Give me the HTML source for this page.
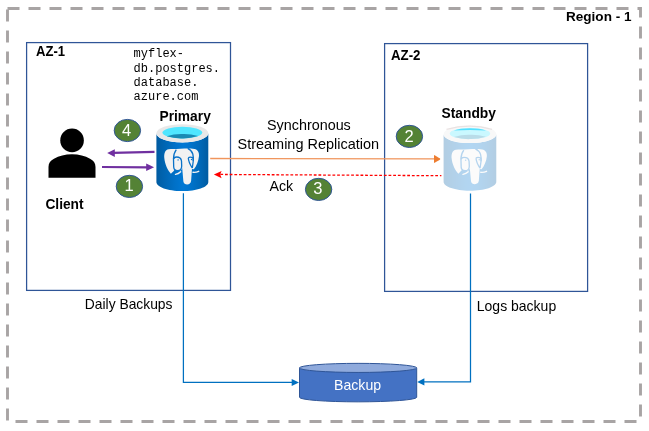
<!DOCTYPE html>
<html><head><meta charset="utf-8">
<style>
html,body{margin:0;padding:0;background:#fff;width:649px;height:431px;overflow:hidden}
svg{display:block;will-change:transform}
text{font-family:"Liberation Sans",sans-serif}
.b{font-weight:bold}
.m{font-family:"Liberation Mono",monospace}
</style></head><body>
<svg width="649" height="431" viewBox="0 0 649 431">
<defs>
<linearGradient id="dbg" x1="2.59" y1="10.16" x2="15.41" y2="10.16" gradientUnits="userSpaceOnUse">
<stop offset="0" stop-color="#005ba1"/><stop offset=".07" stop-color="#0060a9"/><stop offset=".36" stop-color="#0071c8"/><stop offset=".52" stop-color="#0078d4"/><stop offset=".64" stop-color="#0074cd"/><stop offset=".82" stop-color="#006abb"/><stop offset="1" stop-color="#005ba1"/>
</linearGradient>
<g id="pg">
 <g transform="matrix(4.048,0,0,3.935,145.92,122.23)">
  <path d="M9,5.14c-3.54,0-6.41-1-6.41-2.32V15.18c0,1.27,2.82,2.3,6.32,2.32H9c3.54,0,6.41-1,6.41-2.32V2.82C15.41,4.11,12.54,5.14,9,5.14Z" fill="url(#dbg)"/>
  <ellipse cx="9" cy="2.82" rx="6.41" ry="2.32" fill="#e8e8e8"/>
  <ellipse cx="9" cy="2.635" rx="4.92" ry="1.475" fill="#50e6ff"/>
  <path d="M9,3a11.55,11.55,0,0,0-3.89.57A11.66,11.66,0,0,0,9,4.11a11.66,11.66,0,0,0,3.89-.58A11.55,11.55,0,0,0,9,3Z" fill="#198ab3"/>
 </g>
 <path fill="#f2f2f2" d="M168.6,149.2 C165,149.5 163.9,154 164.3,158 C164.8,164 167.8,170.5 170.9,173.7 C172.6,172.3 174.2,170.6 175,169 L175.5,170 C176.5,171 178.5,171.3 180.5,170.6 C181.5,170 182,169 182.2,168 L183.4,181.5 C183.6,183.5 185.3,184.4 187.2,184.4 C189.3,184.4 190.8,183.2 191.1,181 L192,168.5 C192.3,169 193,169.5 194,169 C196.5,166 198.5,161 199,156 C199.3,152 197.5,149.6 194.5,149 C192,148.5 189.5,148.5 187.7,148.5 C184,148.2 180,148.5 176.8,149.1 C174,149 171,149 168.6,149.2 Z"/>
 <g fill="none" stroke="#0a72c8" stroke-width="1.3">
  <path d="M176.3,149.6 C174.5,152 173.5,155 173.5,159"/>
  <path d="M173.5,159 C174,157.5 175,157 176.5,157 C179,157 181.2,158.5 181.5,161 L181.7,166 C181.7,169 180,170.6 177.5,170.6 C175,170.6 173.8,169 173.7,167 L173.5,159 Z"/>
  <path d="M187.7,148.4 C190,149.5 192,151.5 192.8,154 C193.3,156 193.5,158 193.3,161"/>
  <path d="M188.2,157.8 C189,157.2 191,157 192.8,157.6 C193.4,158.8 193.4,160 193.2,161.5 L192.3,168 M188.3,158 C188.5,161 190,164.5 192.2,168"/>
 </g>
 <circle cx="178.1" cy="159.9" r="0.7" fill="#0a74cc"/>
 <circle cx="191.5" cy="159.5" r="0.7" fill="#0a74cc"/>
 <g fill="none" stroke="#f2f2f2" stroke-width="1.4" stroke-linecap="round">
  <path d="M175.5,174.4 Q178.5,174 180.6,171.8"/>
  <path d="M193,172.3 Q196,172.6 198.7,171.3"/>
 </g>
</g>
</defs>

<!-- region dashed border -->
<rect x="7.5" y="8.5" width="633" height="413" fill="none" stroke="#a8a4a4" stroke-width="2.9" stroke-dasharray="12 9"/>
<text class="b" x="566" y="21" font-size="13.5" textLength="65.5" lengthAdjust="spacingAndGlyphs">Region - 1</text>

<!-- AZ boxes -->
<rect x="26.6" y="42.6" width="203.9" height="247.8" fill="none" stroke="#2f5597" stroke-width="1.25"/>
<rect x="384.6" y="43.6" width="203" height="247.8" fill="none" stroke="#2f5597" stroke-width="1.25"/>
<text class="b" x="36" y="55.8" font-size="14.5" textLength="29.1" lengthAdjust="spacingAndGlyphs">AZ-1</text>
<text class="b" x="391" y="59.8" font-size="14.5" textLength="29.5" lengthAdjust="spacingAndGlyphs">AZ-2</text>

<!-- hostname -->
<g class="m" font-size="12" fill="#000">
<text class="m" x="133.6" y="56.6">myflex-</text>
<text class="m" x="133.6" y="71.6">db.postgres.</text>
<text class="m" x="133.6" y="85.8">database.</text>
<text class="m" x="133.6" y="99.6">azure.com</text>
</g>

<!-- client -->
<circle cx="72.05" cy="140.4" r="11.8" fill="#000"/>
<path d="M48.5,177.8 V167 C48.5,163 50.5,160.5 54,158.8 C59,156 65,154.3 72,154.3 C79,154.3 85,156 90,158.8 C93.5,160.5 95.5,163 95.5,167 V177.8 Z" fill="#000"/>
<text class="b" x="45.4" y="208.9" font-size="14.5" textLength="38.2" lengthAdjust="spacingAndGlyphs">Client</text>

<text class="b" x="159.5" y="120.6" font-size="14" textLength="51.3" lengthAdjust="spacingAndGlyphs">Primary</text>
<text class="b" x="441.5" y="118.4" font-size="14" textLength="54.4" lengthAdjust="spacingAndGlyphs">Standby</text>

<!-- db icons -->
<use href="#pg"/>
<use href="#pg" transform="matrix(1.01531,0,0,0.97916,284.806,3.587)" opacity="0.3"/>
<path d="M446.5,129.4 Q469.5,122.9 492,129.4" fill="none" stroke="#e2d8d8" stroke-width="1.3" opacity="0.7"/>
<path d="M453.9,130.5 A20.2,5.68 0 0 1 486,130.5 Q470,129.3 453.9,130.5 Z" fill="#3fdcff" opacity="0.85"/>

<!-- backup lines -->
<path d="M183.4,193.2 V382.3 H294" fill="none" stroke="#0070c0" stroke-width="1.25"/>
<path d="M299,382.4 L291.7,379 L291.7,385.9 Z" fill="#0070c0"/>
<path d="M470.5,193.6 V381.9 H423" fill="none" stroke="#0070c0" stroke-width="1.25"/>
<path d="M417.2,381.9 L424.4,378.3 L424.4,385.5 Z" fill="#0070c0"/>

<!-- backup cylinder -->
<path d="M299.5,367.9 V397.3 A58.6,4.55 0 0 0 416.7,397.3 V367.9 Z" fill="#4472c4" stroke="#2f5597" stroke-width="1"/>
<ellipse cx="358.1" cy="367.9" rx="58.6" ry="4.55" fill="#8faadc" stroke="#2f5597" stroke-width="1"/>
<text x="334.1" y="389.6" font-size="14.5" fill="#fff" textLength="47" lengthAdjust="spacingAndGlyphs">Backup</text>

<!-- purple arrows -->
<path d="M154.5,151.8 L113,152.9" stroke="#7030a0" stroke-width="2.2" fill="none"/>
<path d="M107.2,153.1 L114.8,149.2 L114.8,157.1 Z" fill="#7030a0"/>
<path d="M102,167 L148,167.3" stroke="#7030a0" stroke-width="2.2" fill="none"/>
<path d="M154.1,167.3 L146.2,163.6 L146.2,171 Z" fill="#7030a0"/>

<!-- orange arrow -->
<path d="M210.2,158.5 L435,158.9" stroke="#f0955c" stroke-width="1.3" fill="none"/>
<path d="M434,154.9 C436,156 438.5,157.4 439.8,158.3 Q440.8,159 439.8,159.7 C438.5,160.6 436,162 434,163.1 Z" fill="#ed7d31"/>

<!-- red dashed -->
<path d="M220.33,174.45 L441.4,175.7" stroke="#ff0000" stroke-width="1.3" stroke-dasharray="2.8 1.872" fill="none"/>
<path d="M213.9,174.4 L221.6,170.9 L220.2,174.5 L221.6,178.2 Z" fill="#ff0000"/>

<text x="267" y="129.9" font-size="14.5" textLength="83.8" lengthAdjust="spacingAndGlyphs">Synchronous</text>
<text x="237.5" y="149" font-size="14.5" textLength="141.6" lengthAdjust="spacingAndGlyphs">Streaming Replication</text>
<text x="269.5" y="190.9" font-size="14.5" textLength="23.66" lengthAdjust="spacingAndGlyphs">Ack</text>
<text x="84.8" y="308.6" font-size="13.9" textLength="87.7" lengthAdjust="spacingAndGlyphs">Daily Backups</text>
<text x="476.8" y="310.8" font-size="14.2" textLength="79.4" lengthAdjust="spacingAndGlyphs">Logs backup</text>

<!-- number badges -->
<g fill="#548235" stroke="#2f5597" stroke-width="1">
<ellipse cx="127.4" cy="130.5" rx="13.2" ry="11.1"/>
<ellipse cx="129.4" cy="186.4" rx="13.2" ry="11.1"/>
<ellipse cx="409.4" cy="136.4" rx="13.2" ry="11.1"/>
<ellipse cx="318.6" cy="189.4" rx="13.2" ry="11.1"/>
</g>
<g fill="#fff" font-size="16.5">
<text x="122" y="135.9">4</text>
<text x="124.5" y="190.9">1</text>
<text x="404.5" y="142.1">2</text>
<text x="313.2" y="194.4">3</text>
</g>
</svg>
</body></html>
